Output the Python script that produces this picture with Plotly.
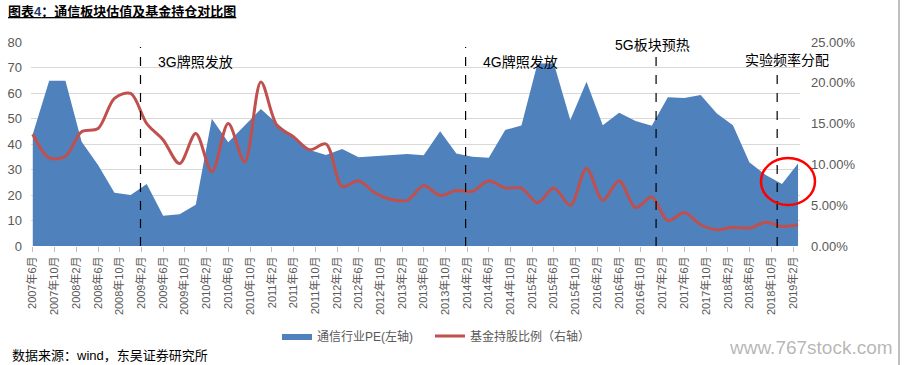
import plotly.graph_objects as go

# ---------------- data ----------------
quarters = [
    "2007-06-01", "2007-09-01", "2007-12-01",
    "2008-03-01", "2008-06-01", "2008-09-01", "2008-12-01",
    "2009-03-01", "2009-06-01", "2009-09-01", "2009-12-01",
    "2010-03-01", "2010-06-01", "2010-09-01", "2010-12-01",
    "2011-03-01", "2011-06-01", "2011-09-01", "2011-12-01",
    "2012-03-01", "2012-06-01", "2012-09-01", "2012-12-01",
    "2013-03-01", "2013-06-01", "2013-09-01", "2013-12-01",
    "2014-03-01", "2014-06-01", "2014-09-01", "2014-12-01",
    "2015-03-01", "2015-06-01", "2015-09-01", "2015-12-01",
    "2016-03-01", "2016-06-01", "2016-09-01", "2016-12-01",
    "2017-03-01", "2017-06-01", "2017-09-01", "2017-12-01",
    "2018-03-01", "2018-06-01", "2018-09-01", "2018-12-01",
    "2019-03-01",
]

pe_values = [
    43.8, 64.8, 64.8,
    40.9, 31.8, 20.9, 20.0,
    24.3, 11.9, 12.5, 16.2,
    49.9, 40.7, 47.4, 53.7,
    48.0, 42.9, 37.6, 35.7,
    38.0, 34.8, 35.2, 35.6,
    36.1, 35.6, 45.0, 36.3,
    35.0, 34.6, 45.5, 47.3,
    71.6, 71.6, 49.4, 64.4,
    47.4, 52.3, 49.0, 47.2,
    58.3, 58.0, 59.2, 52.0,
    47.4, 32.8, 27.8, 24.3,
    32.4,
]

fund_ratio = [
    0.137, 0.108, 0.110,
    0.140, 0.144, 0.181, 0.187,
    0.150, 0.130, 0.101, 0.138,
    0.091, 0.150, 0.103, 0.201,
    0.148, 0.134, 0.118, 0.125,
    0.073, 0.080, 0.065, 0.057,
    0.056, 0.074, 0.062, 0.068,
    0.067, 0.080, 0.071, 0.071,
    0.053, 0.071, 0.050, 0.095,
    0.056, 0.080, 0.047, 0.060,
    0.031, 0.041, 0.026, 0.020,
    0.023, 0.022, 0.029, 0.024,
    0.026,
]

tick_dates = []
tick_labels = []
for i in range(36):
    m = 6 + 4 * i
    y = 2007 + (m - 1) // 12
    mm = (m - 1) % 12 + 1
    tick_dates.append(f"{y}-{mm:02d}-01")
    tick_labels.append(f"{y}年{mm}月")

event_dates = ["2009-01-25", "2014-01-22", "2016-12-25", "2018-11-04"]
event_labels = ["3G牌照发放", "4G牌照发放", "5G板块预热", "实验频率分配"]

# ---------------- layout helpers (screen pixel -> paper) ----------------
W, H = 905, 365
L, R, T, B = 31, 800, 42, 246


def px(x):
    return (x - L) / (R - L)


def py(y):
    return (B - y) / (B - T)


FONT = "Liberation Sans, Arial, Noto Sans CJK SC, sans-serif"
CJK = "Liberation Sans, Noto Sans CJK SC, sans-serif"
GRAY = "#595959"

fig = go.Figure()

fig.add_trace(go.Scatter(
    x=quarters, y=pe_values, name="通信行业PE(左轴)",
    mode="lines", line=dict(width=0, color="#4F81BD"),
    fill="tozeroy", fillcolor="#4F81BD", yaxis="y",
))

fig.add_trace(go.Scatter(
    x=quarters, y=fund_ratio, name="基金持股比例（右轴）",
    mode="lines", line=dict(width=3, color="#C0504D", shape="spline", smoothing=0.9),
    yaxis="y2",
))

shapes = []
event_top = [47, 47, 52, 63]
for d, top in zip(event_dates, event_top):
    shapes.append(dict(
        type="line", xref="x", yref="paper", x0=d, x1=d, y0=0, y1=py(top),
        line=dict(color="#000000", width=1.2, dash="dash"), layer="above",
    ))

# red highlight ellipse
shapes.append(dict(
    type="circle", xref="paper", yref="paper",
    x0=px(761), x1=px(815), y0=py(205), y1=py(158),
    line=dict(color="#FF0000", width=2.5), layer="above",
))
# right border line of the screenshot
shapes.append(dict(
    type="line", xref="paper", yref="paper",
    x0=px(899), x1=px(899), y0=py(0), y1=py(365),
    line=dict(color="#BFBFBF", width=2),
))

annotations = []
ann_pos = [(156, 62), (481, 62), (613, 45), (743, 60)]
for (ax, ay), txt in zip(ann_pos, event_labels):
    annotations.append(dict(
        text=txt, xref="paper", yref="paper", x=px(ax), y=py(ay),
        xanchor="left", yanchor="middle", showarrow=False,
        font=dict(family=CJK, size=14, color="#000000"),
    ))

annotations.append(dict(
    text="<b><u>图表<span style='color:#1F3864'>4</span>：通信板块估值及基金持仓对比图</u></b>",
    xref="paper", yref="paper", x=px(6), y=py(11),
    xanchor="left", yanchor="middle", showarrow=False,
    font=dict(family=CJK, size=13, color="#000000"),
))
annotations.append(dict(
    text="数据来源：wind，东吴证券研究所",
    xref="paper", yref="paper", x=px(10), y=py(355),
    xanchor="left", yanchor="middle", showarrow=False,
    font=dict(family=CJK, size=13, color="#000000"),
))
annotations.append(dict(
    text="www.767stock.com",
    xref="paper", yref="paper", x=px(895), y=py(347),
    xanchor="right", yanchor="middle", showarrow=False,
    font=dict(family=FONT, size=19, color="rgba(120,120,120,0.55)"),
))

fig.update_layout(
    width=W, height=H,
    margin=dict(l=L, r=W - R, t=T, b=H - B, pad=0, autoexpand=False),
    paper_bgcolor="white", plot_bgcolor="white",
    font=dict(family=FONT, color=GRAY, size=12),
    showlegend=True,
    legend=dict(
        orientation="h", x=px(277), y=py(336), xanchor="left", yanchor="middle",
        font=dict(family=CJK, size=12, color=GRAY),
        bgcolor="rgba(0,0,0,0)", entrywidth=108, entrywidthmode="pixels",
        tracegroupgap=0,
    ),
    xaxis=dict(
        type="date",
        range=["2007-05-22", "2019-03-12"],
        tickvals=tick_dates, ticktext=tick_labels, tickangle=-90,
        tickfont=dict(family=CJK, size=11, color=GRAY),
        ticks="outside", ticklen=5, tickcolor="#BFBFBF",
        showgrid=False, zeroline=False, showline=False,
    ),
    yaxis=dict(
        range=[0, 80], dtick=10, tick0=0,
        showgrid=True, gridcolor="#D9D9D9", gridwidth=1,
        zeroline=False, showline=False,
        tickfont=dict(size=13, color=GRAY), ticks="", ticklabelstandoff=8,
    ),
    yaxis2=dict(
        range=[0, 0.25], dtick=0.05, tick0=0, tickformat=".2%",
        overlaying="y", side="right", showgrid=False, zeroline=False,
        showline=False, tickfont=dict(size=13, color=GRAY), ticks="",
        ticklabelstandoff=10,
    ),
    shapes=shapes, annotations=annotations,
)

fig.write_html(
    "out.html",
    config={"displayModeBar": False},
    post_script="document.body.style.margin='0';document.body.style.padding='0';",
)
